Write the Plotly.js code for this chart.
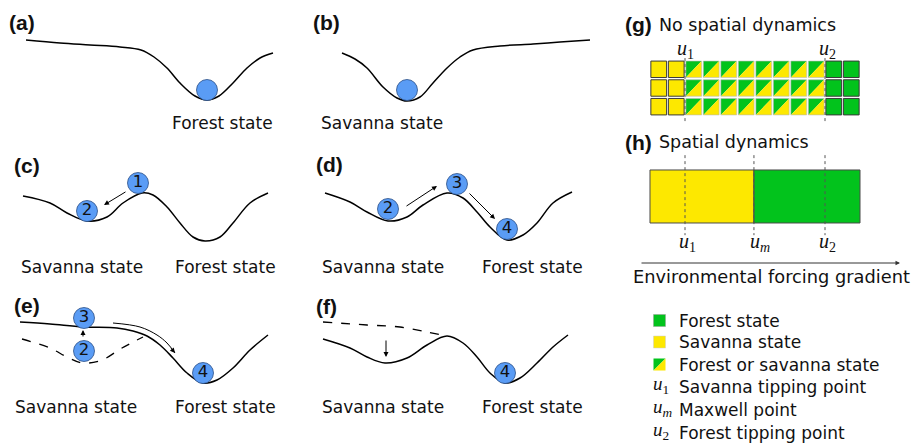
<!DOCTYPE html>
<html>
<head>
<meta charset="utf-8">
<script src="https://cdn.plot.ly/plotly-3.0.1.min.js"></script>
<style>html,body{margin:0;padding:0;background:#fff;}#chart{width:911px;height:448px;}</style>
</head>
<body>
<div id="chart"></div>
<script>
// ---------------- DATA ----------------
// Potential landscapes (local x = state, local y = potential)
const landA_x = [26,60,90,120,141,154,167,180,195,207,219,233,247,260,273];
const landA_y = [100,97,95,93,90,83,72,57,44,40,44,57,72,82,87];
const landB_x = [42,55,67,83,97,107,120,133,147,160,173,200,233,260,290];
const landB_y = [87,81,72,53,42,39,43,57,72,83,90,94,96,98,100];
const landC_x = [23,50,67,87,107,123,142,153,167,180,193,205,220,233,250,268];
const landC_y = [84,77,67,59,63,77,87,85,73,57,43,39,43,57,77,87];
const landD_x = [25,50,67,88,107,123,147,163,177,190,207,223,237,253,272];
const landD_y = [87,78,68,59,63,75,87,82,68,53,40,45,57,77,88];
const landE_x = [20,50,83,117,133,147,160,173,187,203,217,233,250,268];
const landE_y = [101,99,96,95,92,87,78,65,50,40,43,55,73,88];
const landEdash_x = [22,50,67,83,102,122,143];
const landEdash_y = [84,75,66,60,63,75,86];
const landF_x = [23,50,67,85,107,127,147,163,177,190,205,220,237,253,268];
const landF_y = [84,75,66,60,65,78,87,80,66,50,40,45,60,76,88];
const landFdash_x = [23,67,100,127,147];
const landFdash_y = [101,98,96,91,87];

// Balls: [panel, x, y, label]
const balls = [
  ['a',207,50,''], ['b',107,50,''],
  ['c',138,97,'1'], ['c',87,69,'2'],
  ['d',88,71,'2'], ['d',157,96,'3'], ['d',207,51,'4'],
  ['e',84,105,'3'], ['e',84,72,'2'], ['e',203,50,'4'],
  ['f',205,50,'4']
];
// Arrows: [panel, tailX, tailY, headX, headY]
const arrows = [
  ['c',127,89,104,75],
  ['d',105,73,137,94], ['d',168,88,195,61],
  ['e',83,85,83,93],
  ['f',86,84,86,66]
];
const curvedArrowE_x = [113,140,157,167,175];
const curvedArrowE_y = [100,96,88,80,70];

// State labels: [panel, x, y, text]
const stateLabels = [
  ['a',222,17,'Forest state'], ['b',82,17,'Savanna state'],
  ['c',82,13,'Savanna state'], ['c',225,13,'Forest state'],
  ['d',83,13,'Savanna state'], ['d',232,13,'Forest state'],
  ['e',76,16,'Savanna state'], ['e',225,16,'Forest state'],
  ['f',83,16,'Savanna state'], ['f',232,16,'Forest state']
];

// Grid (g): state of each column (S savanna, F forest, B bistable)
const gridStates = ['S','S','B','B','B','B','B','B','B','B','F','F'];
const gridRows = 3;
// Tipping points along the gradient (column units)
const u1 = 2, um = 5.94, u2 = 10, nCols = 12;

const legendItems = ['Forest state','Savanna state','Forest or savanna state'];
const legendPoints = [['1','Savanna tipping point'],['m','Maxwell point'],['2','Forest tipping point']];

// ---------------- STYLE ----------------
const W = 911, H = 448;
const GREEN = '#02c31c', YELLOW = '#fde800', BLUE = '#5a9cf5';
const FONT = 'DejaVu Sans';
const panels = {
  a:{X0:0,Y0:0,n:''}, b:{X0:300,Y0:0,n:'2'},
  c:{X0:0,Y0:140,n:'3'}, d:{X0:300,Y0:140,n:'4'},
  e:{X0:0,Y0:283,n:'5'}, f:{X0:300,Y0:283,n:'6'}
};
function xd(p0,p1){return [p0/W,p1/W];}
function yd(q0,q1){return [1-q1/H,1-q0/H];}

const traces = [];
const annotations = [];
const layout = {
  width:W, height:H, margin:{l:0,r:0,t:0,b:0},
  paper_bgcolor:'#fff', plot_bgcolor:'rgba(0,0,0,0)',
  showlegend:false, barmode:'overlay', annotations:annotations, hovermode:false
};
function ax(domain, range){return {domain:domain, range:range, visible:false, fixedrange:true, showgrid:false, zeroline:false};}

Object.keys(panels).forEach(k=>{
  const p = panels[k];
  layout['xaxis'+p.n] = ax(xd(p.X0,p.X0+300),[0,300]);
  layout['yaxis'+p.n] = ax(yd(p.Y0,p.Y0+140),[0,140]);
  p.xa = 'x'+p.n; p.ya = 'y'+p.n;
});

function curve(pk, xs, ys, dash){
  const p = panels[pk];
  traces.push({type:'scatter', mode:'lines', x:xs, y:ys, xaxis:p.xa, yaxis:p.ya,
    line:{color:'#000', width:dash?1.3:1.5, shape:'spline', smoothing:1, dash:dash?'dash':'solid'}});
}
curve('a',landA_x,landA_y);
curve('b',landB_x,landB_y);
curve('c',landC_x,landC_y);
curve('d',landD_x,landD_y);
curve('e',landE_x,landE_y);
curve('e',landEdash_x,landEdash_y,true);
curve('f',landF_x,landF_y);
curve('f',landFdash_x,landFdash_y,true);
// curved arrow shaft in (e)
traces.push({type:'scatter', mode:'lines', x:curvedArrowE_x, y:curvedArrowE_y, xaxis:panels.e.xa, yaxis:panels.e.ya,
  line:{color:'#000', width:1, shape:'spline', smoothing:1}});
const nE = curvedArrowE_x.length;
annotations.push({xref:panels.e.xa, yref:panels.e.ya, axref:panels.e.xa, ayref:panels.e.ya,
  x:curvedArrowE_x[nE-1], y:curvedArrowE_y[nE-1], ax:curvedArrowE_x[nE-2]+3, ay:curvedArrowE_y[nE-2]-4,
  text:'', showarrow:true, arrowhead:2, arrowsize:1, arrowwidth:1, arrowcolor:'#000', standoff:0});

// balls
Object.keys(panels).forEach(k=>{
  const bs = balls.filter(b=>b[0]===k);
  if(!bs.length) return;
  traces.push({type:'scatter', mode:'markers+text', x:bs.map(b=>b[1]), y:bs.map(b=>b[2]), text:bs.map(b=>b[3]),
    xaxis:panels[k].xa, yaxis:panels[k].ya, cliponaxis:false,
    marker:{size:21, color:BLUE, line:{color:'#2b4f86', width:0.8}},
    textposition:'middle center', textfont:{family:FONT, size:16.5, color:'#111'}});
});
arrows.forEach(a=>{
  const p = panels[a[0]];
  annotations.push({xref:p.xa, yref:p.ya, axref:p.xa, ayref:p.ya, x:a[3], y:a[4], ax:a[1], ay:a[2],
    text:'', showarrow:true, arrowhead:2, arrowsize:1, arrowwidth:1, arrowcolor:'#000', standoff:0, startstandoff:0});
});
stateLabels.forEach(s=>{
  const p = panels[s[0]];
  annotations.push({xref:p.xa, yref:p.ya, x:s[1], y:s[2], text:s[3], showarrow:false,
    xanchor:'center', yanchor:'middle', font:{family:FONT, size:17, color:'#111'}});
});

// panel letters
const letters = [['(a)',7,22],['(b)',311,22],['(c)',12,165],['(d)',314,164],['(e)',12,305],['(f)',314,306],['(g)',623,25],['(h)',623,142]];
letters.forEach(l=>{
  annotations.push({xref:'paper', yref:'paper', x:l[1]/W, y:1-l[2]/H, text:'<b>'+l[0]+'</b>', showarrow:false,
    xanchor:'left', yanchor:'middle', font:{family:'Liberation Sans', size:21, color:'#111'}});
});
annotations.push({xref:'paper', yref:'paper', x:657/W, y:1-25/H, text:'No spatial dynamics', showarrow:false,
  xanchor:'left', yanchor:'middle', font:{family:FONT, size:17.5, color:'#111'}});
annotations.push({xref:'paper', yref:'paper', x:657/W, y:1-142/H, text:'Spatial dynamics', showarrow:false,
  xanchor:'left', yanchor:'middle', font:{family:FONT, size:17.5, color:'#111'}});

// ---------------- (g) grid ----------------
layout.xaxis7 = ax(xd(640,870),[-0.571,12.571]);
layout.yaxis7 = ax(yd(45,125),[3.48,-0.8]);
function addPolys(polys, color, lineColor, lineW, xa, ya){
  const xs=[], ys=[];
  polys.forEach(pg=>{ pg.forEach(pt=>{xs.push(pt[0]); ys.push(pt[1]);}); xs.push(pg[0][0]); ys.push(pg[0][1]); xs.push(null); ys.push(null); });
  traces.push({type:'scatter', mode:'lines', x:xs, y:ys, xaxis:xa, yaxis:ya, fill:'toself', fillcolor:color,
    line:{color:lineColor, width:lineW}, connectgaps:false});
}
const gx = 0.05, gy = 0.06;
const yellowSq=[], greenSq=[], greenTri=[], yellowTri=[], splitOutline=[];
for(let r=0;r<gridRows;r++){
  gridStates.forEach((s,c)=>{
    const x0=c+gx, x1=c+1-gx, y0=r+gy, y1=r+1-gy;
    const sq=[[x0,y0],[x1,y0],[x1,y1],[x0,y1]];
    if(s==='S') yellowSq.push(sq);
    else if(s==='F') greenSq.push(sq);
    else { greenTri.push([[x0,y0],[x1,y0],[x0,y1]]); yellowTri.push([[x1,y0],[x1,y1],[x0,y1]]); splitOutline.push(sq); }
  });
}
addPolys(yellowSq, YELLOW, '#3a3a3a', 1, 'x7','y7');
addPolys(greenSq, GREEN, '#3a3a3a', 1, 'x7','y7');
addPolys(greenTri, GREEN, 'rgba(0,0,0,0)', 0, 'x7','y7');
addPolys(yellowTri, YELLOW, 'rgba(0,0,0,0)', 0, 'x7','y7');
traces.push({type:'scatter', mode:'lines', xaxis:'x7', yaxis:'y7',
  x:[].concat(...splitOutline.map(q=>[q[0][0],q[1][0],q[2][0],q[3][0],q[0][0],null])),
  y:[].concat(...splitOutline.map(q=>[q[0][1],q[1][1],q[2][1],q[3][1],q[0][1],null])),
  line:{color:'#b8b8b8', width:0.6}});
[u1,u2].forEach(u=>{
  traces.push({type:'scatter', mode:'lines', x:[u,u], y:[-0.1,3.3], xaxis:'x7', yaxis:'y7',
    line:{color:'#555', width:1, dash:'dot'}});
});
const uLab = (sub)=>'<i>u</i><sub>'+(sub==='m'?'<i>m</i>':sub)+'</sub>';
annotations.push({xref:'x7', yref:'y7', x:u1+0.05, y:-0.55, text:uLab('1'), showarrow:false, xanchor:'center', yanchor:'middle', font:{family:'Liberation Serif', size:20, color:'#111'}});
annotations.push({xref:'x7', yref:'y7', x:u2+0.15, y:-0.55, text:uLab('2'), showarrow:false, xanchor:'center', yanchor:'middle', font:{family:'Liberation Serif', size:20, color:'#111'}});

// ---------------- (h) spatial ----------------
layout.xaxis8 = ax(xd(640,870),[-0.571,12.571]);
layout.yaxis8 = ax(yd(150,255),[-0.604,1.377]);
traces.push({type:'bar', orientation:'h', x:[um], base:[0], y:[0.5], width:[1], xaxis:'x8', yaxis:'y8',
  marker:{color:YELLOW, line:{color:'#4a4a4a', width:1}}});
traces.push({type:'bar', orientation:'h', x:[nCols-um], base:[um], y:[0.5], width:[1], xaxis:'x8', yaxis:'y8',
  marker:{color:GREEN, line:{color:'#4a4a4a', width:1}}});
[u1,um,u2].forEach(u=>{
  traces.push({type:'scatter', mode:'lines', x:[u,u], y:[1.28,-0.23], xaxis:'x8', yaxis:'y8',
    line:{color:'#555', width:1, dash:'dot'}});
});
annotations.push({xref:'x8', yref:'y8', x:u1+0.15, y:-0.36, text:uLab('1'), showarrow:false, xanchor:'center', yanchor:'middle', font:{family:'Liberation Serif', size:20, color:'#111'}});
annotations.push({xref:'x8', yref:'y8', x:um+0.35, y:-0.36, text:uLab('m'), showarrow:false, xanchor:'center', yanchor:'middle', font:{family:'Liberation Serif', size:20, color:'#111'}});
annotations.push({xref:'x8', yref:'y8', x:u2+0.15, y:-0.36, text:uLab('2'), showarrow:false, xanchor:'center', yanchor:'middle', font:{family:'Liberation Serif', size:20, color:'#111'}});
// gradient arrow + label
annotations.push({xref:'paper', yref:'paper', axref:'paper', ayref:'paper', x:900/W, y:1-263/H, ax:640/W, ay:1-263/H,
  text:'', showarrow:true, arrowhead:2, arrowsize:0.9, arrowwidth:1, arrowcolor:'#333', standoff:0});
annotations.push({xref:'paper', yref:'paper', x:771/W, y:1-276/H, text:'Environmental forcing gradient', showarrow:false,
  xanchor:'center', yanchor:'middle', font:{family:FONT, size:17.8, color:'#111'}});

// ---------------- legend ----------------
layout.xaxis9 = ax(xd(640,911),[640,911]);
layout.yaxis9 = ax(yd(300,448),[448,300]);
const legY = [320.5,342,364.5], legRowsY=[387,410,433];
const iconX0 = 653.5, iconX1 = 665.5, ih = 6;
addPolys([[[iconX0,legY[0]-ih],[iconX1,legY[0]-ih],[iconX1,legY[0]+ih],[iconX0,legY[0]+ih]]], GREEN, '#999', 0.5, 'x9','y9');
addPolys([[[iconX0,legY[1]-ih],[iconX1,legY[1]-ih],[iconX1,legY[1]+ih],[iconX0,legY[1]+ih]]], YELLOW, '#ccc', 0.5, 'x9','y9');
addPolys([[[iconX0,legY[2]-ih],[iconX1,legY[2]-ih],[iconX0,legY[2]+ih]]], GREEN, 'rgba(0,0,0,0)', 0, 'x9','y9');
addPolys([[[iconX1,legY[2]-ih],[iconX1,legY[2]+ih],[iconX0,legY[2]+ih]]], YELLOW, 'rgba(0,0,0,0)', 0, 'x9','y9');
legendItems.forEach((t,i)=>{
  annotations.push({xref:'paper', yref:'paper', x:677/W, y:1-legY[i]/H, text:t, showarrow:false, xanchor:'left', yanchor:'middle', font:{family:FONT, size:17, color:'#111'}});
});
legendPoints.forEach((p,i)=>{
  annotations.push({xref:'paper', yref:'paper', x:651/W, y:1-(legRowsY[i]-2)/H, text:uLab(p[0]), showarrow:false, xanchor:'left', yanchor:'middle', font:{family:'Liberation Serif', size:19, color:'#111'}});
  annotations.push({xref:'paper', yref:'paper', x:677/W, y:1-legRowsY[i]/H, text:p[1], showarrow:false, xanchor:'left', yanchor:'middle', font:{family:FONT, size:17, color:'#111'}});
});

Plotly.newPlot('chart', traces, layout, {staticPlot:true, displayModeBar:false});
</script>
</body>
</html>
